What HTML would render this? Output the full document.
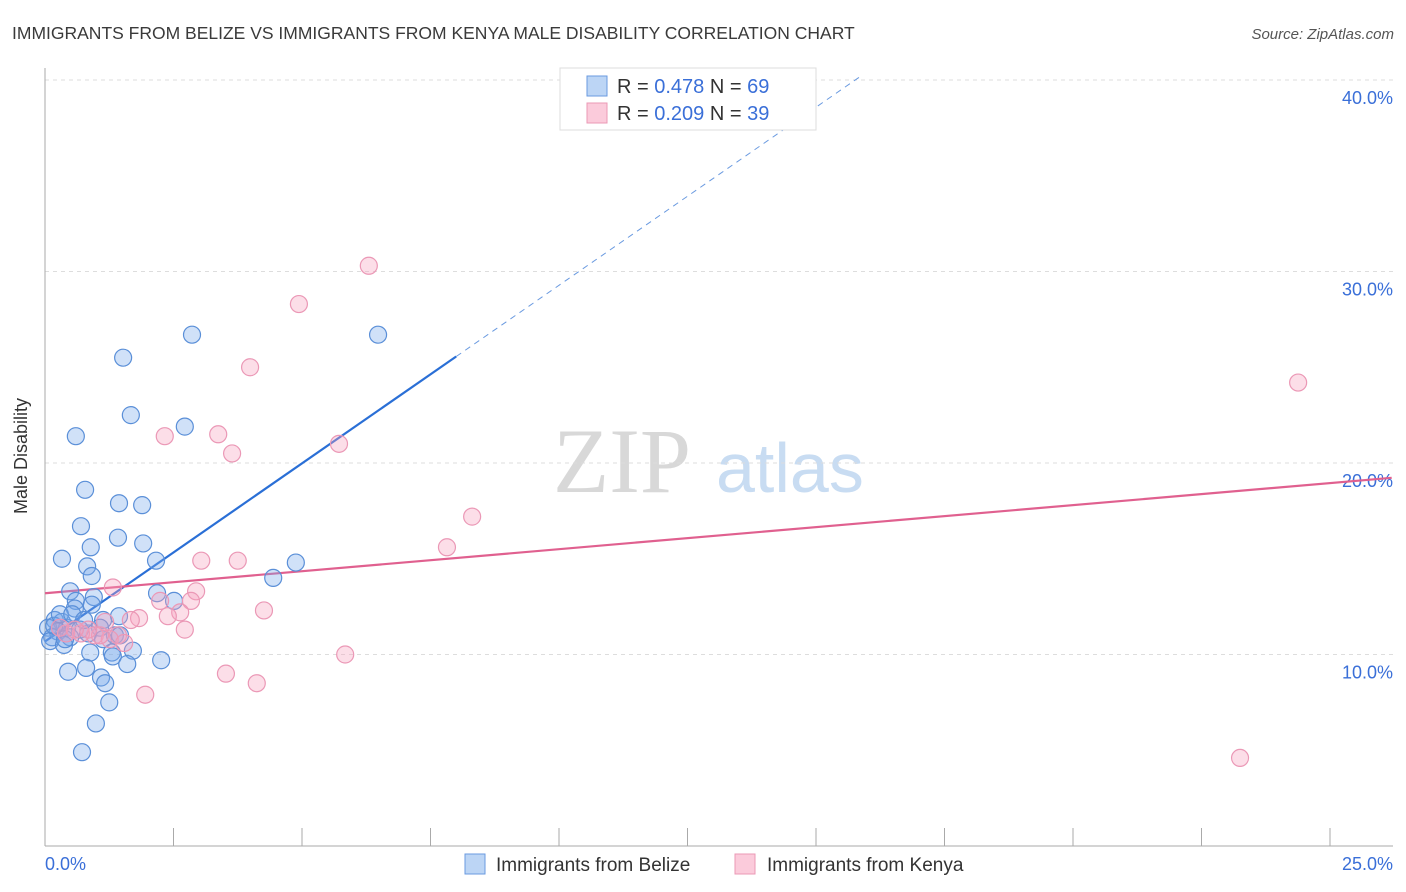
<!DOCTYPE html>
<html><head><meta charset="utf-8"><style>
body{margin:0;background:#fff;font-family:"Liberation Sans",sans-serif;}
svg{display:block}
</style></head><body>
<svg id="chart" width="1406" height="892" font-family="Liberation Sans, sans-serif">
<text x="12" y="39" font-size="17.5" fill="#3a3a3a">IMMIGRANTS FROM BELIZE VS IMMIGRANTS FROM KENYA MALE DISABILITY CORRELATION CHART</text>
<text x="1394" y="39" font-size="15" fill="#555" font-style="italic" text-anchor="end">Source: ZipAtlas.com</text>
<g>
<text x="553" y="492" font-size="92" fill="#d8d8d8" font-family="Liberation Serif, serif">ZIP</text>
<text x="716" y="492" font-size="70" fill="#c8dcf2">atlas</text>
</g>
<g id="grid"></g><g id="axes"></g><g id="lines"></g><g id="points"></g>
<text x="27" y="456" font-size="18" fill="#333" text-anchor="middle" transform="rotate(-90 27 456)">Male Disability</text>
<text x="45" y="870" font-size="18" fill="#3a6fd8">0.0%</text>
<text x="1393" y="870" font-size="18" fill="#3a6fd8" text-anchor="end">25.0%</text>
<g>
<rect x="560" y="68" width="256" height="62" fill="#fff" stroke="#ddd"/>
<rect x="587" y="76" width="20" height="20" fill="#bcd5f5" stroke="#6a9ae0"/>
<rect x="587" y="103" width="20" height="20" fill="#fbcbdb" stroke="#eb98b6"/>
<text x="617" y="93" font-size="20" fill="#333">R = <tspan fill="#3a6fd8">0.478</tspan>   N = <tspan fill="#3a6fd8">69</tspan></text>
<text x="617" y="120" font-size="20" fill="#333">R = <tspan fill="#3a6fd8">0.209</tspan>   N = <tspan fill="#3a6fd8">39</tspan></text>
</g>
<g>
<rect x="465" y="854" width="20" height="20" fill="#bcd5f5" stroke="#6a9ae0"/>
<text x="496" y="871" font-size="19" fill="#333">Immigrants from Belize</text>
<rect x="735" y="854" width="20" height="20" fill="#fbcbdb" stroke="#eb98b6"/>
<text x="767" y="871" font-size="19" fill="#333">Immigrants from Kenya</text>
</g>
</svg>
<script>
const yTicks=[10,20,30,40];
const yTickLabels=["10.0%","20.0%","30.0%","40.0%"];
const xTicks=[0,2.5,5,7.5,10,12.5,15,17.5,20,22.5,25];
const belizeX=[1.52,2.86,6.48,1.67,2.72,0.60,0.78,1.44,1.89,0.70,1.42,1.91,0.89,0.33,2.16,4.88,0.82,0.91,4.44,0.49,2.18,2.51,0.95,0.60,0.91,0.58,1.44,1.13,0.19,0.33,1.07,0.43,0.06,0.68,0.25,0.84,1.36,0.14,0.49,1.13,0.10,0.37,1.71,1.30,0.88,1.32,2.26,1.60,0.80,0.45,1.09,1.17,1.25,0.99,0.72,0.18,0.29,0.53,0.76,1.46,0.39];
const belizeY=[25.5,26.7,26.7,22.5,21.9,21.4,18.6,17.9,17.8,16.7,16.1,15.8,15.6,15.0,14.9,14.8,14.6,14.1,14.0,13.3,13.2,12.8,13.0,12.8,12.6,12.4,12.0,11.8,11.8,11.7,11.4,11.4,11.4,11.3,11.2,11.1,11.0,10.9,10.9,10.8,10.7,10.5,10.2,10.1,10.1,9.9,9.7,9.5,9.3,9.1,8.8,8.5,7.5,6.4,4.9,11.5,12.1,12.1,11.8,11.0,10.8];
const kenyaX=[6.30,4.94,3.99,24.38,2.33,3.37,3.64,5.72,8.31,7.82,3.04,3.75,1.32,2.94,2.24,2.84,2.63,4.26,1.83,2.39,1.67,2.72,1.17,1.42,0.97,0.70,0.41,1.26,1.54,1.07,5.84,3.52,4.12,1.95,23.25,0.84,0.58,0.29];
const kenyaY=[30.3,28.3,25.0,24.2,21.4,21.5,20.5,21.0,17.2,15.6,14.9,14.9,13.5,13.3,12.8,12.8,12.2,12.3,11.9,12.0,11.8,11.3,11.7,11.0,11.0,11.1,11.1,10.8,10.6,11.0,10.0,9.0,8.5,7.9,4.6,11.3,11.3,11.4];
const belizeTrend=[10.68,1.86]; // intercept, slope
const kenyaTrend=[13.2,0.23];
const belizeSolidEnd=8.0, belizeDashEnd=15.9, kenyaEnd=26.2;

const NS="http://www.w3.org/2000/svg";
const X=v=>45+v*51.4;
const Y=v=>846-v*19.15;
function mk(tag,attrs,parent){const e=document.createElementNS(NS,tag);for(const k in attrs)e.setAttribute(k,attrs[k]);parent.appendChild(e);return e;}
const grid=document.getElementById('grid'),axes=document.getElementById('axes'),lines=document.getElementById('lines'),pts=document.getElementById('points');
yTicks.forEach((t,i)=>{
  const l=mk('line',{x1:45,x2:1393,y1:Y(t),y2:Y(t),stroke:'#ddd','stroke-dasharray':'4,4'},grid);
  
  
  const tx=mk('text',{x:1393,y:Y(t)+24,'font-size':18,fill:'#3a6fd8','text-anchor':'end'},grid);
  tx.textContent=yTickLabels[i];
  
  
});
const ya=mk('line',{x1:45,x2:45,y1:68,y2:846,stroke:'#aaa'},axes);


const xa=mk('line',{x1:45,x2:1393,y1:846,y2:846,stroke:'#aaa'},axes);


xTicks.forEach(t=>{
  const l=mk('line',{x1:X(t),x2:X(t),y1:828,y2:846,stroke:'#aaa'},axes);
  
  
});
const tr=(c,x)=>c[0]+c[1]*x;
const bs=mk('line',{x1:X(0),y1:Y(tr(belizeTrend,0)),x2:X(belizeSolidEnd),y2:Y(tr(belizeTrend,belizeSolidEnd)),stroke:'#2a6fd6','stroke-width':2.2},lines);


const bd=mk('line',{x1:X(belizeSolidEnd),y1:Y(tr(belizeTrend,belizeSolidEnd)),x2:X(belizeDashEnd),y2:Y(tr(belizeTrend,belizeDashEnd)),stroke:'#6a9ae0','stroke-width':1,'stroke-dasharray':'6,5'},lines);


const kl=mk('line',{x1:X(0),y1:Y(tr(kenyaTrend,0)),x2:X(kenyaEnd),y2:Y(tr(kenyaTrend,kenyaEnd)),stroke:'#e0608f','stroke-width':2.2},lines);


belizeX.forEach((x,i)=>{
  const c=mk('circle',{cx:X(x),cy:Y(belizeY[i]),r:8.5,fill:'rgba(120,170,235,0.35)',stroke:'#5a8fd8','stroke-width':1.2},pts);
  
  
});
kenyaX.forEach((x,i)=>{
  const c=mk('circle',{cx:X(x),cy:Y(kenyaY[i]),r:8.5,fill:'rgba(245,160,190,0.35)',stroke:'#eb98b6','stroke-width':1.2},pts);
  
  
});
</script>
</body></html>
